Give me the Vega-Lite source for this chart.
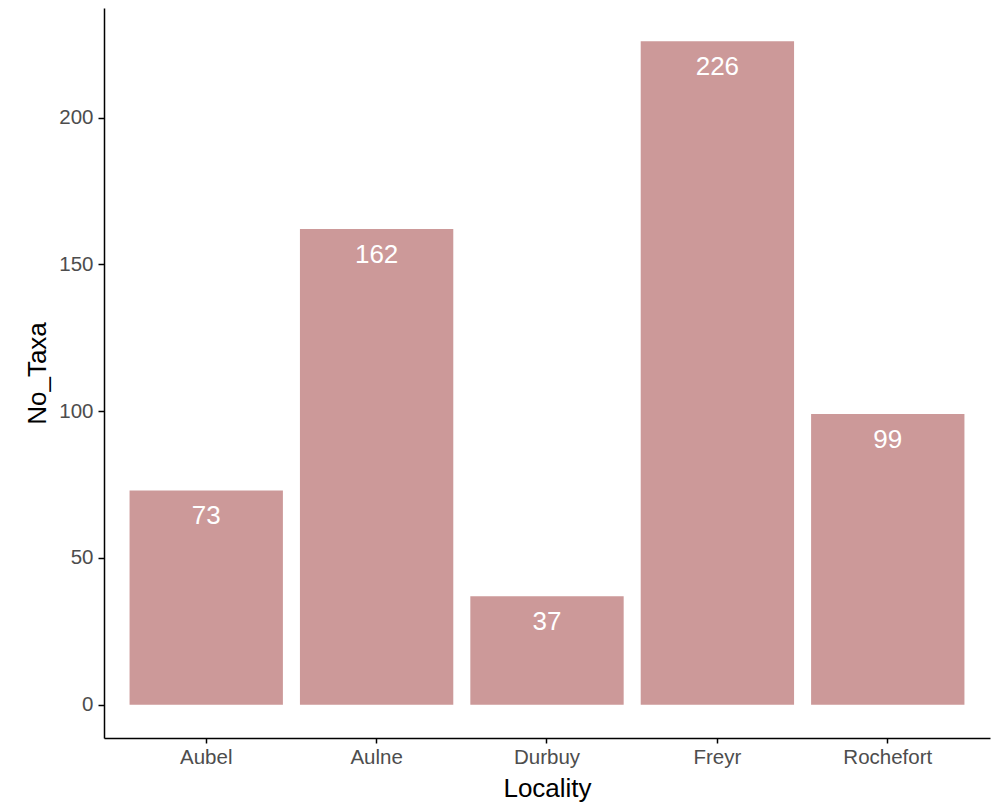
{
  "$schema": "https://vega.github.io/schema/vega-lite/v6.json",
  "width": 886,
  "height": 730,
  "autosize": {"type": "none"},
  "padding": {"left": 104, "top": 8, "right": 9, "bottom": 67},
  "background": "white",
  "config": {
    "view": {"stroke": null},
    "font": "Liberation Sans",
    "axis": {
      "grid": false,
      "domainColor": "black",
      "domainWidth": 1.5,
      "tickColor": "black",
      "tickWidth": 1.5,
      "tickSize": 6,
      "labelFont": "Liberation Sans",
      "labelFontSize": 20.5,
      "labelColor": "#4D4D4D",
      "titleFont": "Liberation Sans",
      "titleFontSize": 26,
      "titleFontWeight": "normal",
      "titleColor": "black"
    }
  },
  "data": {
    "values": [
      {"Locality": "Aubel", "No_Taxa": 73},
      {"Locality": "Aulne", "No_Taxa": 162},
      {"Locality": "Durbuy", "No_Taxa": 37},
      {"Locality": "Freyr", "No_Taxa": 226},
      {"Locality": "Rochefort", "No_Taxa": 99}
    ]
  },
  "encoding": {
    "x": {
      "field": "Locality",
      "type": "nominal",
      "sort": null,
      "scale": {"paddingInner": 0.1, "paddingOuter": 0.15},
      "axis": {
        "labelAngle": 0,
        "labelPadding": 4,
        "tickSize": 5,
        "title": "Locality",
        "titleX": 443,
        "titleY": 50,
        "titleBaseline": "middle",
        "titleAlign": "center"
      }
    },
    "y": {
      "field": "No_Taxa",
      "type": "quantitative",
      "scale": {"domain": [-11.3, 237.3], "nice": false, "zero": false},
      "axis": {
        "values": [0, 50, 100, 150, 200],
        "labelPadding": 5,
        "title": "No_Taxa",
        "titleAngle": -90,
        "titleX": -67,
        "titleY": 365,
        "titleBaseline": "middle",
        "titleAlign": "center"
      }
    }
  },
  "layer": [
    {"mark": {"type": "bar", "color": "#CC9999"}, "encoding": {"y2": {"datum": 0}}},
    {
      "mark": {"type": "text", "color": "white", "fontSize": 26, "baseline": "middle", "dy": 26, "font": "Liberation Sans"},
      "encoding": {"text": {"field": "No_Taxa", "type": "quantitative"}}
    }
  ]
}
